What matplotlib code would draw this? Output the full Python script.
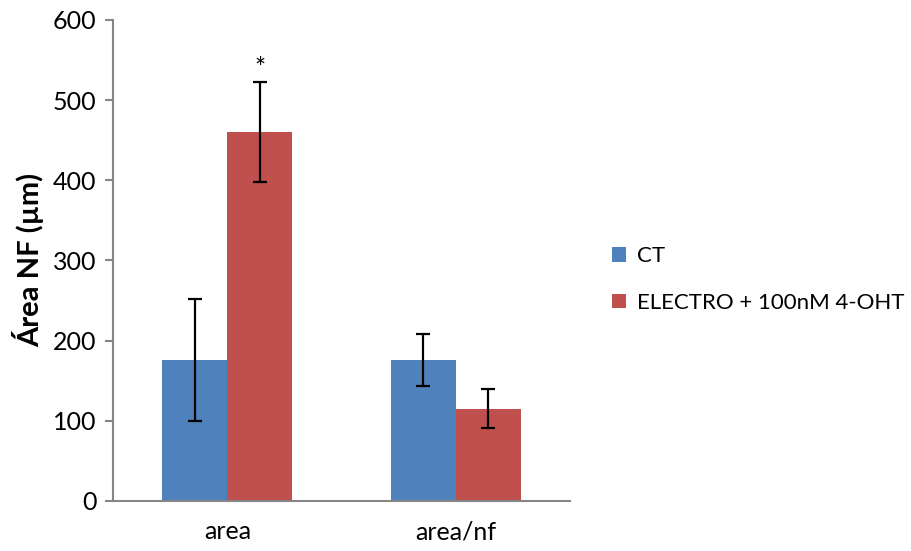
import numpy as np
import matplotlib
matplotlib.use("Agg")
import matplotlib.pyplot as plt

categories = ['area', 'area/nf']
series_names = ['CT', 'ELECTRO + 100nM 4-OHT']
ct_values = [176, 176]
ct_low = [99, 143]
ct_high = [252, 208]
electro_values = [460, 115]
electro_low = [398, 91]
electro_high = [523, 139]
colors = ['#4F81BD', '#C0504D']

plt.rcParams['font.family'] = ['Lato', 'DejaVu Sans']

fig = plt.figure(figsize=(9.12, 5.51), dpi=100)
ax = fig.add_axes([0.124, 0.091, 0.501, 0.873])

x = np.arange(len(categories))
w = 0.285

def err(vals, lo, hi):
    vals = np.array(vals)
    return [vals - np.array(lo), np.array(hi) - vals]

ax.bar(x - w / 2, ct_values, w, color=colors[0], label=series_names[0])
ax.bar(x + w / 2, electro_values, w, color=colors[1], label=series_names[1])
ax.errorbar(x - w / 2, ct_values, yerr=err(ct_values, ct_low, ct_high),
            fmt='none', ecolor='black', elinewidth=1.6, capsize=5, capthick=1.6)
ax.errorbar(x + w / 2, electro_values, yerr=err(electro_values, electro_low, electro_high),
            fmt='none', ecolor='black', elinewidth=1.6, capsize=5, capthick=1.6)

# significance mark
ax.text(x[0] + w / 2, electro_high[0] - 1, '*', ha='center', va='bottom', fontsize=19)

ax.set_xlim(-0.5, 1.5)
ax.set_ylim(0, 600)
ax.set_yticks(range(0, 601, 100))
ax.set_xticks(x)
ax.set_xticklabels(categories)
ax.tick_params(axis='x', length=0, pad=14, labelsize=18)
ax.tick_params(axis='y', length=6, width=1.5, color='#868686', labelsize=18, pad=6)
ax.set_ylabel('Área NF (µm)', fontsize=21, fontweight='bold', labelpad=6)

for side in ['top', 'right']:
    ax.spines[side].set_visible(False)
for side in ['left', 'bottom']:
    ax.spines[side].set_color('#868686')
    ax.spines[side].set_linewidth(1.5)

ax.legend(loc='center left', bbox_to_anchor=(1.048, 0.46), frameon=False,
          fontsize=16, handlelength=0.63, handleheight=0.63, handletextpad=0.5,
          labelspacing=1.2)

fig.savefig('out.png', dpi=100)
